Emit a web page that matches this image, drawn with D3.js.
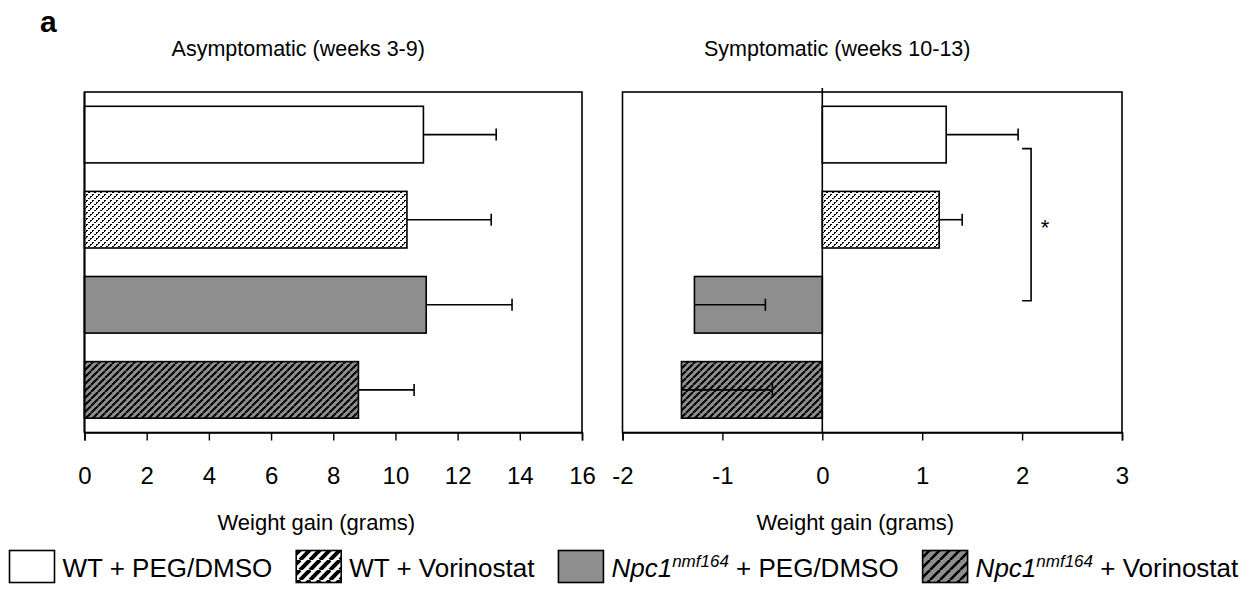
<!DOCTYPE html>
<html>
<head>
<meta charset="utf-8">
<script src="https://cdn.jsdelivr.net/npm/d3@7"></script>
<style>
  body { margin: 0; background: #fff; }
  text { font-family: "Liberation Sans", Arial, sans-serif; fill: #000; }
</style>
</head>
<body>
<div id="chart"></div>
<script>
// groups, top to bottom
var groups = ["WT + PEG/DMSO", "WT + Vorinostat", "Npc1 + PEG/DMSO", "Npc1 + Vorinostat"];
var fills = ["white", "url(#hatchLight)", "#8e8e8e", "url(#hatchDark)"];
var legendFills = ["white", "url(#legHatchLight)", "#8e8e8e", "url(#legHatchDark)"];

// weight gain in grams and error (SEM)
var asymValues = [10.9, 10.37, 10.99, 8.81];
var asymErrors = [2.34, 2.71, 2.76, 1.79];
var sympValues = [1.24, 1.17, -1.28, -1.41];
var sympErrors = [0.72, 0.23, 0.71, 0.91];

var asymTicks = [0, 2, 4, 6, 8, 10, 12, 14, 16];
var sympTicks = [-2, -1, 0, 1, 2, 3];

var W = 1252, H = 589;
var svg = d3.select("#chart").append("svg").attr("width", W).attr("height", H);

// patterns
var defs = svg.append("defs");
function hatch(id, bg, size, sw, dash, crisp) {
    var p = defs.append("pattern").attr("id", id).attr("patternUnits", "userSpaceOnUse")
        .attr("width", size).attr("height", size);
    p.append("rect").attr("width", size).attr("height", size).attr("fill", bg);
    [[-size, size, 0, 0], [0, size, size, 0], [size, size, 2*size, 0]].forEach(function(s){
        var l = p.append("line").attr("x1", s[0]).attr("y1", s[1]).attr("x2", s[2]).attr("y2", s[3])
            .attr("stroke", "#000").attr("stroke-width", sw);
        if (dash) l.attr("stroke-dasharray", dash);
        if (crisp) l.attr("shape-rendering", "crispEdges");
    });
}
hatch("hatchLight", "white", 6, 1.4, "2.2,1", true);
hatch("hatchDark", "#8e8e8e", 7, 2);
hatch("legHatchLight", "white", 10, 4);
hatch("legHatchDark", "#8e8e8e", 10, 2.6);

var plotTop = 92, plotBottom = 432.5;
var y = d3.scaleBand().domain(groups).range([plotTop, plotBottom]).paddingInner(0.335).paddingOuter(0.168);

function panel(x0, x1, domain, ticks, values, errors, title, zeroLine) {
    var x = d3.scaleLinear().domain(domain).range([x0, x1]);
    var g = svg.append("g");

    g.append("rect").attr("x", x0).attr("y", plotTop).attr("width", x1 - x0).attr("height", plotBottom - plotTop)
        .attr("fill", "none").attr("stroke", "#000").attr("stroke-width", 1.6);

    g.selectAll(".bar").data(values).enter().append("rect")
        .attr("x", function(d){ return x(Math.min(0, d)); })
        .attr("y", function(d, i){ return y(groups[i]); })
        .attr("width", function(d){ return Math.abs(x(d) - x(0)); })
        .attr("height", y.bandwidth())
        .attr("fill", function(d, i){ return fills[i]; })
        .attr("stroke", "#000").attr("stroke-width", 1.6);

    // error bars (plus direction)
    values.forEach(function(d, i){
        var cy = y(groups[i]) + y.bandwidth() / 2;
        var xe = x(d + errors[i]);
        g.append("line").attr("x1", x(d)).attr("x2", xe).attr("y1", cy).attr("y2", cy)
            .attr("stroke", "#000").attr("stroke-width", 1.6);
        g.append("line").attr("x1", xe).attr("x2", xe).attr("y1", cy - 6).attr("y2", cy + 6)
            .attr("stroke", "#000").attr("stroke-width", 1.6);
    });

    if (zeroLine) {
        g.append("line").attr("x1", x(0)).attr("x2", x(0)).attr("y1", plotTop - 4).attr("y2", plotBottom)
            .attr("stroke", "#000").attr("stroke-width", 1.6);
    } else {
        g.append("line").attr("x1", x(0)).attr("x2", x(0)).attr("y1", plotTop).attr("y2", plotBottom)
            .attr("stroke", "#000").attr("stroke-width", 1.8);
    }

    var axis = g.append("g").attr("transform", "translate(0," + plotBottom + ")")
        .call(d3.axisBottom(x).tickValues(ticks).tickSize(8).tickPadding(27)
            .tickFormat(function(d){ return String(d); }));
    axis.select(".domain").attr("stroke-width", 1.6);
    axis.selectAll(".tick line").attr("stroke-width", 1.4);
    axis.selectAll("text").style("font-size", "24px").style("font-family", "Liberation Sans, Arial, sans-serif")
        .attr("dy", "0.7em");

    var cx = (x0 + x1) / 2;
    g.append("text").attr("x", cx - 17).attr("y", 530).attr("text-anchor", "middle")
        .style("font-size", "22px").text("Weight gain (grams)");
    g.append("text").attr("x", cx - 35).attr("y", 56).attr("text-anchor", "middle")
        .style("font-size", "21.5px").text(title);
    return x;
}

panel(84.5, 582, [0, 16], asymTicks, asymValues, asymErrors, "Asymptomatic (weeks 3-9)", false);
var xs = panel(622.5, 1122, [-2, 3], sympTicks, sympValues, sympErrors, "Symptomatic (weeks 10-13)", true);

// significance bracket between WT + PEG/DMSO and Npc1 + PEG/DMSO
var sig = { from: 0, to: 2, at: 2.09, label: "*" };
var by0 = y(groups[sig.from]) + y.bandwidth() / 2 + 14;
var by1 = y(groups[sig.to]) + y.bandwidth() / 2 - 4;
var bx = xs(sig.at);
svg.append("path").attr("d", "M" + (bx - 9) + "," + by0 + "H" + bx + "V" + by1 + "H" + (bx - 9))
    .attr("fill", "none").attr("stroke", "#000").attr("stroke-width", 1.6);
svg.append("text").attr("x", bx + 14).attr("y", (by0 + by1) / 2 + 10).attr("text-anchor", "middle")
    .style("font-size", "22px").text(sig.label);

// panel letter
svg.append("text").attr("x", 40).attr("y", 32).style("font-size", "30px").style("font-weight", "bold").text("a");

// legend
var leg = svg.append("g");
var lx = 9.5;
groups.forEach(function(name, i){
    leg.append("rect").attr("x", lx).attr("y", 550.5).attr("width", 45).attr("height", 32)
        .attr("fill", legendFills[i]).attr("stroke", "#000").attr("stroke-width", 1.6);
    var t = leg.append("text").attr("x", lx + 53).attr("y", 577).style("font-size", "26px");
    if (name.indexOf("Npc1") === 0) {
        t.append("tspan").style("font-style", "italic").text("Npc1");
        t.append("tspan").style("font-style", "italic").style("font-size", "17px").attr("dy", -10).text("nmf164");
        t.append("tspan").attr("dy", 10).text(name.slice(4));
    } else {
        t.text(name);
    }
    lx = lx + 53 + t.node().getComputedTextLength() + 24;
});
</script>
</body>
</html>
